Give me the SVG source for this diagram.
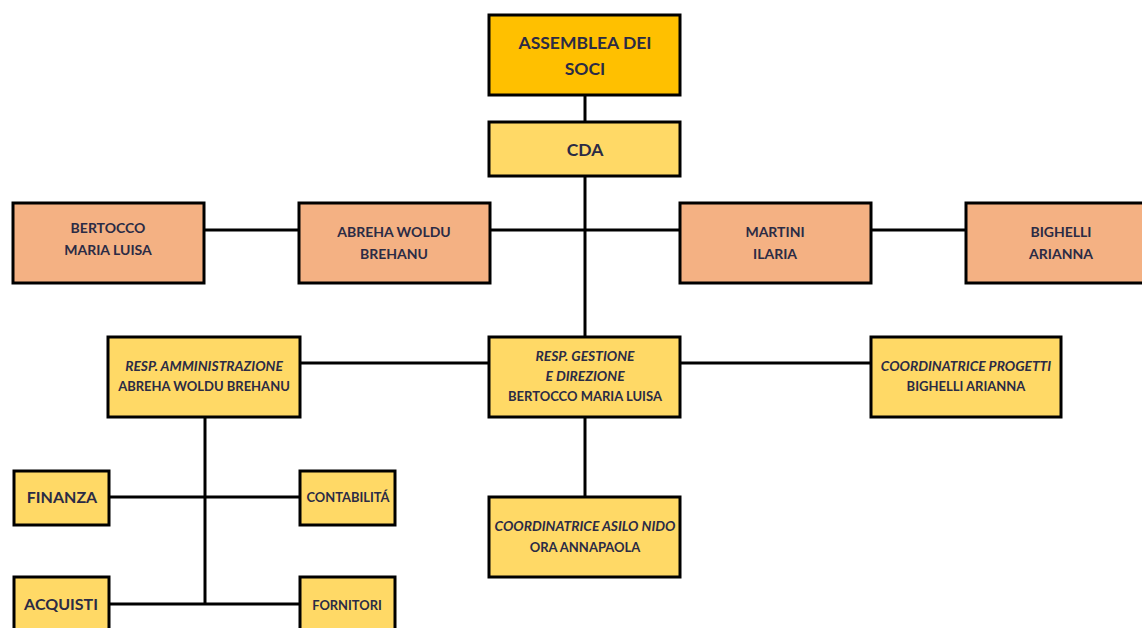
<svg xmlns="http://www.w3.org/2000/svg" width="1142" height="628" viewBox="0 0 1142 628">
<style>
.box{stroke:#000;stroke-width:3}
.a{fill:#FFC000}
.y{fill:#FFD966}
.o{fill:#F4B183}
.t{font-family:Lato,"Open Sans","Liberation Sans",sans-serif;font-weight:bold;fill:#2B2B45;text-anchor:middle;font-size:14px}
.i{font-style:italic;font-size:13.8px}
.s{font-size:13px}
.big{font-size:17.5px}
.m{font-size:16px}
.sm{font-size:12.9px}
.c{stroke:#000;stroke-width:3;fill:none}
</style>
<g id="connectors">
<line class="c" x1="585" y1="95" x2="585" y2="122"/>
<line class="c" x1="585" y1="176" x2="585" y2="337"/>
<line class="c" x1="204" y1="230" x2="299" y2="230"/>
<line class="c" x1="490" y1="230" x2="680" y2="230"/>
<line class="c" x1="871" y1="230" x2="966" y2="230"/>
<line class="c" x1="300" y1="363" x2="489" y2="363"/>
<line class="c" x1="680" y1="363" x2="871" y2="363"/>
<line class="c" x1="205" y1="417" x2="205" y2="604"/>
<line class="c" x1="109" y1="497" x2="300" y2="497"/>
<line class="c" x1="109" y1="604" x2="300" y2="604"/>
<line class="c" x1="585" y1="417" x2="585" y2="497"/>
</g>
<g id="assemblea"><rect class="box a" x="489" y="15" width="191" height="80"/><text class="t big" x="585" y="49">ASSEMBLEA DEI</text><text class="t big" x="585" y="75">SOCI</text></g>
<g id="cda"><rect class="box y" x="489" y="122" width="191" height="54"/><text class="t big" x="585" y="156">CDA</text></g>
<g id="bertocco"><rect class="box o" x="13" y="203" width="191" height="80"/><text class="t" x="108" y="233">BERTOCCO</text><text class="t" x="108" y="255">MARIA LUISA</text></g>
<g id="abreha"><rect class="box o" x="299" y="203" width="191" height="80"/><text class="t" x="394" y="237">ABREHA WOLDU</text><text class="t" x="394" y="259">BREHANU</text></g>
<g id="martini"><rect class="box o" x="680" y="203" width="191" height="80"/><text class="t" x="775" y="237">MARTINI</text><text class="t" x="775" y="259">ILARIA</text></g>
<g id="bighelli"><rect class="box o" x="966" y="203" width="180" height="80"/><text class="t" x="1061" y="237">BIGHELLI</text><text class="t" x="1061" y="259">ARIANNA</text></g>
<g id="resp-amm"><rect class="box y" x="108" y="337" width="192" height="80"/><text class="t i" x="204" y="371">RESP. AMMINISTRAZIONE</text><text class="t s" x="204" y="391">ABREHA WOLDU BREHANU</text></g>
<g id="resp-gest"><rect class="box y" x="489" y="337" width="191" height="80"/><text class="t i" x="585" y="361">RESP. GESTIONE</text><text class="t i" x="585" y="381">E DIREZIONE</text><text class="t s" x="585" y="401">BERTOCCO MARIA LUISA</text></g>
<g id="coord-progetti"><rect class="box y" x="871" y="337" width="190" height="80"/><text class="t i" x="966" y="371">COORDINATRICE PROGETTI</text><text class="t s" x="966" y="391">BIGHELLI ARIANNA</text></g>
<g id="finanza"><rect class="box y" x="14" y="471" width="95" height="54"/><text class="t m" x="62" y="503">FINANZA</text></g>
<g id="contabilita"><rect class="box y" x="300" y="471" width="95" height="54"/><text class="t sm" x="348" y="502">CONTABILITÁ</text></g>
<g id="acquisti"><rect class="box y" x="14" y="577" width="95" height="60"/><text class="t m" x="61" y="610">ACQUISTI</text></g>
<g id="fornitori"><rect class="box y" x="300" y="577" width="95" height="60"/><text class="t sm" x="347" y="610">FORNITORI</text></g>
<g id="coord-asilo"><rect class="box y" x="489" y="497" width="191" height="80"/><text class="t i" x="585" y="531">COORDINATRICE ASILO NIDO</text><text class="t s" x="585" y="552">ORA ANNAPAOLA</text></g>
</svg>
